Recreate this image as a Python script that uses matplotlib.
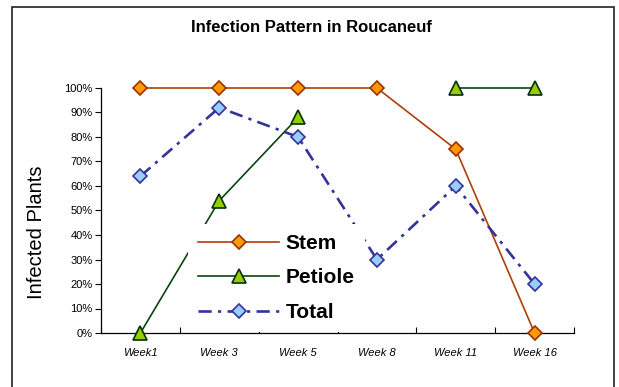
import numpy as np
from matplotlib import pyplot as plt
from matplotlib import patches

plt.rcParams['font.family'] = ['Liberation Sans', 'DejaVu Sans']

weeks = ['Week1', 'Week 3', 'Week 5', 'Week 8', 'Week 11', 'Week 16']
stem = [100, 100, 100, 100, 75, 0]
petiole = [0, 54, 88, np.nan, 100, 100]
total = [64, 92, 80, 30, 60, 20]

W, H = 619, 387
fig = plt.figure(figsize=(W / 100, H / 100), dpi=100)
ax = fig.add_axes([101 / W, 1 - 333 / H, 473 / W, 245 / H])

x = np.arange(len(weeks)) + 0.5

ax.plot(x, stem, color='#ad4006', lw=1.2, marker='D', ms=7.6,
        mfc='#ff9900', mec='#993300', mew=1.2, clip_on=False,
        label='Stem', zorder=3)
ax.plot(x, petiole, color='#0a4410', lw=1.2, marker='^', ms=10.5,
        mfc='#99cc00', mec='#003300', mew=1.2, clip_on=False,
        label='Petiole', zorder=3)
ax.plot(x, total, color='#333399', lw=1.9, dashes=[5, 2.4, 1.2, 2.4],
        marker='D', ms=7.4, mfc='#99ccff', mec='#333399', mew=1.2,
        clip_on=False, label='Total', zorder=3)

ax.set_xlim(0, len(weeks))
ax.set_ylim(0, 100)
ax.set_yticks(np.arange(0, 101, 10))
ax.set_yticklabels([f'{v}%' for v in range(0, 101, 10)], fontsize=8)
ax.set_xticks(np.arange(0, len(weeks) + 1))
ax.set_xticklabels([])
ax.set_xticks(x, minor=True)
ax.set_xticklabels(weeks, minor=True, fontsize=8, style='italic')
ax.tick_params(axis='x', which='major', direction='in', length=4, width=0.8)
ax.tick_params(axis='x', which='minor', length=0, pad=11)
ax.tick_params(axis='y', direction='out', length=4, width=0.8, pad=2)

for side in ('top', 'right'):
    ax.spines[side].set_visible(False)
for side in ('left', 'bottom'):
    ax.spines[side].set_linewidth(0.9)

# legend box sits over the lower middle of the plot, hiding what runs under it
leg = ax.legend(loc='lower left', bbox_to_anchor=(0.183, 0.003),
                borderaxespad=0, frameon=True, fancybox=False,
                framealpha=1, edgecolor='none', facecolor='white',
                handlelength=3.9, handletextpad=0.3, labelspacing=0.74,
                borderpad=0.5, prop={'size': 15, 'weight': 'bold'})

fig.text(311 / W, 1 - 27 / H, 'Infection Pattern in Roucaneuf',
         ha='center', va='center', fontsize=12, fontweight='bold')
fig.text(37 / W, 1 - 232 / H, 'Infected Plants', rotation=90,
         ha='center', va='center', fontsize=14.5)

fig.add_artist(patches.Rectangle((12 / W, -0.05), (614 - 12) / W,
                                 1.05 - 7 / H, transform=fig.transFigure,
                                 fill=False, edgecolor='#222222', lw=1.2))

fig.savefig('out.png', dpi=100)
